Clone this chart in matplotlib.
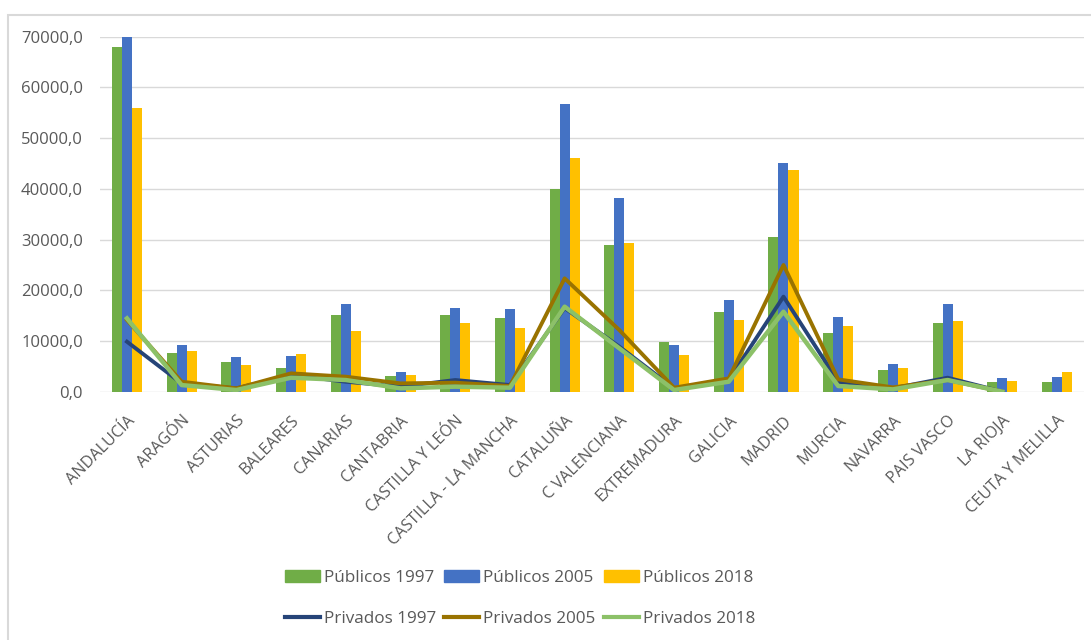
import numpy as np
import matplotlib
matplotlib.use("Agg")
import matplotlib.pyplot as plt
from matplotlib.patches import Rectangle, Patch
from matplotlib.lines import Line2D
from matplotlib.ticker import FuncFormatter

plt.rcParams['font.family'] = ['Open Sans', 'DejaVu Sans']

regiones = ['ANDALUCÍA', 'ARAGÓN', 'ASTURIAS', 'BALEARES', 'CANARIAS', 'CANTABRIA',
            'CASTILLA Y LEÓN', 'CASTILLA - LA MANCHA', 'CATALUÑA', 'C VALENCIANA',
            'EXTREMADURA', 'GALICIA', 'MADRID', 'MURCIA', 'NAVARRA', 'PAIS VASCO',
            'LA RIOJA', 'CEUTA Y MELILLA']

pub_1997 = [68050, 7560, 5850, 4670, 15190, 3090, 15190, 14600, 40040, 28990,
            9730, 15780, 30570, 11510, 4270, 13610, 1910, 1910]
pub_2005 = [70000, 9140, 6840, 7030, 17290, 3880, 16570, 16300, 56800, 38130,
            9140, 18080, 45100, 14790, 5460, 17290, 2760, 2960]
pub_2018 = [56010, 8020, 5260, 7430, 11900, 3290, 13480, 12620, 46090, 29390,
            7230, 14200, 43790, 13020, 4670, 14000, 2170, 3880]

priv_1997 = [9860, 1640, 660, 3290, 1970, 990, 2300, 1310, 16500, 8880,
             660, 2300, 18740, 1970, 660, 2760, 0, np.nan]
priv_2005 = [14140, 1970, 660, 3620, 2960, 1640, 1780, 1120, 22350, 12160,
             790, 2630, 24980, 2430, 850, 2300, 0, np.nan]
priv_2018 = [14460, 1310, 330, 2760, 2300, 660, 990, 790, 16770, 8550,
             330, 1970, 15780, 1120, 460, 2300, 0, np.nan]

c_g, c_b, c_y = '#70AD47', '#4472C4', '#FFC000'
c_navy, c_brown, c_lgreen = '#264478', '#997300', '#8CC168'
gris = '#595959'

fig = plt.figure(figsize=(10.91, 6.40), dpi=100)
ax = fig.add_axes([99.6 / 1091, 1 - 391.7 / 640, (1084.4 - 99.6) / 1091, (391.7 - 36.7) / 640])

x = np.arange(len(regiones))
w = 0.183
ax.bar(x - w, pub_1997, w, color=c_g, zorder=2)
ax.bar(x, pub_2005, w, color=c_b, zorder=2)
ax.bar(x + w, pub_2018, w, color=c_y, zorder=2)

ax.plot(x, priv_1997, color=c_navy, lw=2.8, zorder=3, solid_joinstyle='round')
ax.plot(x, priv_2005, color=c_brown, lw=2.8, zorder=4, solid_joinstyle='round')
ax.plot(x, priv_2018, color=c_lgreen, lw=3.2, zorder=5, solid_joinstyle='round')

ax.set_xlim(-0.5, len(regiones) - 0.5)
ax.set_ylim(0, 70000)
ax.set_yticks(range(0, 70001, 10000))
ax.yaxis.set_major_formatter(FuncFormatter(lambda v, p: f"{v:.1f}".replace('.', ',')))
ax.grid(axis='y', color='#D9D9D9', lw=1.0, zorder=0)
for s in ax.spines.values():
    s.set_visible(False)
ax.tick_params(length=0)
ax.tick_params(axis='y', labelsize=12, labelcolor=gris, pad=12)
ax.set_xticks(x)
ax.set_xticklabels(regiones, rotation=45, ha='right', rotation_mode='anchor',
                   fontsize=11.6, color=gris)
ax.tick_params(axis='x', pad=15)

# chart frame
fig.patches.append(Rectangle((8 / 1091, -0.1), 1.2, 1.1 - 15 / 640, transform=fig.transFigure,
                             fill=False, edgecolor='#D9D9D9', lw=1.5))

handles = [Patch(color=c_g), Line2D([], [], color=c_navy, lw=3),
           Patch(color=c_b), Line2D([], [], color=c_brown, lw=3),
           Patch(color=c_y), Line2D([], [], color=c_lgreen, lw=3)]
labels = ['Públicos 1997', 'Privados 1997', 'Públicos 2005', 'Privados 2005',
          'Públicos 2018', 'Privados 2018']
fig.legend(handles, labels, ncol=3, loc='center', bbox_to_anchor=(520 / 1091, 1 - 598.5 / 640),
           frameon=False, fontsize=12.3, labelcolor=gris, handlelength=2.05, handletextpad=0.24,
           columnspacing=0.47, labelspacing=1.45, handleheight=0.7)

fig.savefig('out.png', dpi=100, facecolor='white')
